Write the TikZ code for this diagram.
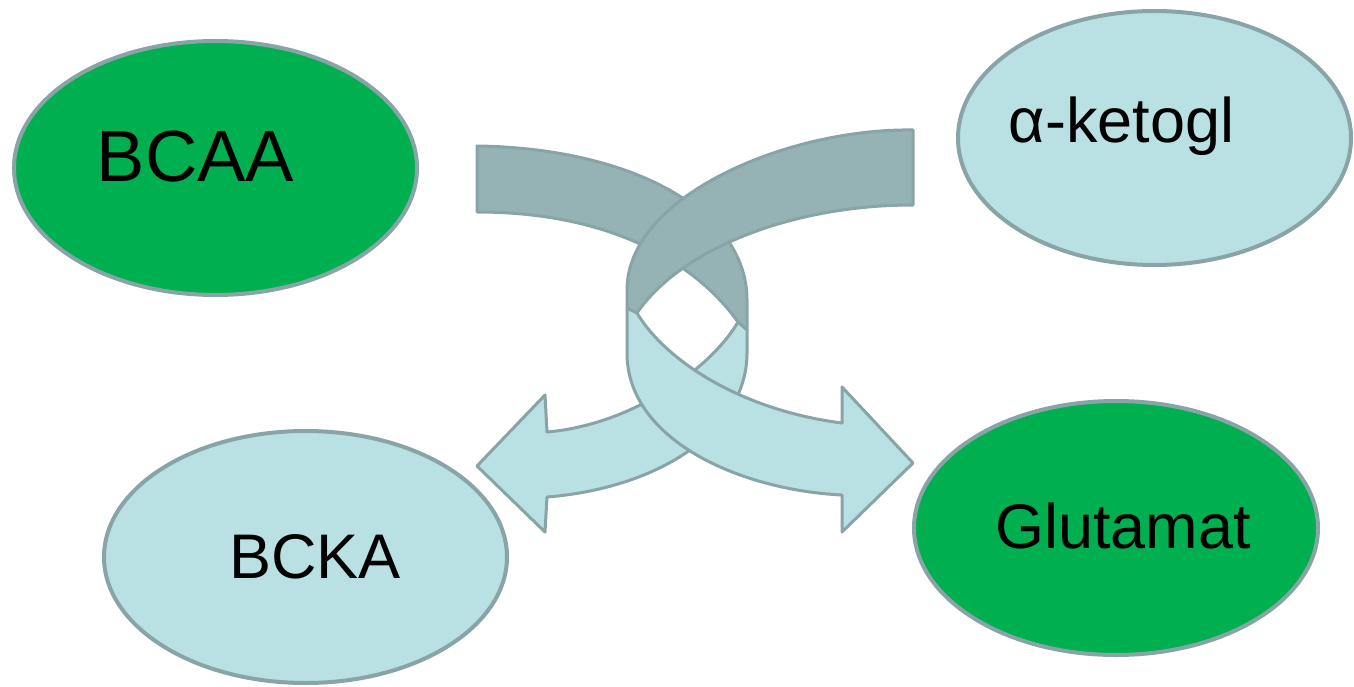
\documentclass[tikz,border=0pt]{standalone}
\usepackage{fontspec}
\setmainfont{Liberation Sans}
\usetikzlibrary{shapes.geometric}
\definecolor{grn}{RGB}{0,176,80}
\definecolor{lite}{RGB}{185,224,227}
\definecolor{darkband}{RGB}{149,178,180}
\definecolor{edgec}{RGB}{137,164,166}
\begin{document}
\begin{tikzpicture}[x=1pt,y=-1pt,
  blob/.style={ellipse, draw=edgec, line width=4pt, inner sep=0pt},
  lbl/.style={anchor=base, inner sep=0pt, text=black},
  band/.style={draw=edgec, line width=3pt, line join=round}]
\useasboundingbox (0,0) rectangle (1354,687);
% ellipses
\node[blob, fill=grn, minimum width=403pt, minimum height=254pt] (bcaa) at (215.5,168) {};
\node[blob, fill=lite, minimum width=393pt, minimum height=254pt] (akg) at (1154.5,138) {};
\node[blob, fill=lite, minimum width=403pt, minimum height=252pt] (bcka) at (305.5,557) {};
\node[blob, fill=grn, minimum width=404pt, minimum height=254pt] (glu) at (1116,528) {};
% labels
\node[lbl, font=\fontsize{72.5}{80}\selectfont] (bcaat) at (195.5,182) {BCAA};
\node[lbl, font=\fontsize{63}{70}\selectfont] (akgt) at (1121.5,143) {α-ketogl};
\node[lbl, font=\fontsize{63}{70}\selectfont] (bckat) at (315,578) {BCKA};
\node[lbl, font=\fontsize{63}{70}\selectfont] (glut) at (1123,548) {Glutamat};
% left band (BCAA -> BCKA)
\draw[band, fill=darkband] (477,146) .. controls (630,148) and (747,210) .. (747,300)
  -- (747,330) -- (738,322) .. controls (695,262) and (610,212) .. (477,212) -- cycle;
\draw[band, fill=lite] (747,330) -- (747,353) .. controls (747,430) and (660,488) .. (547,497)
  -- (545,532) -- (477,466) -- (545,395) -- (547,432)
  .. controls (630,425) and (710,370) .. (738,322) -- cycle;
% right band (alpha-ketogl -> Glutamat)
\draw[band, fill=darkband] (913,130) .. controls (790,128) and (627,195) .. (627,290)
  -- (627,308) -- (637,313) .. controls (680,250) and (790,205) .. (913,205) -- cycle;
\draw[band, fill=lite] (627,308) -- (627,353) .. controls (627,440) and (740,490) .. (842,495)
  -- (842,532) -- (913,463) -- (842,387) -- (842,423)
  .. controls (740,410) and (665,360) .. (637,313) -- cycle;
\end{tikzpicture}
\end{document}
